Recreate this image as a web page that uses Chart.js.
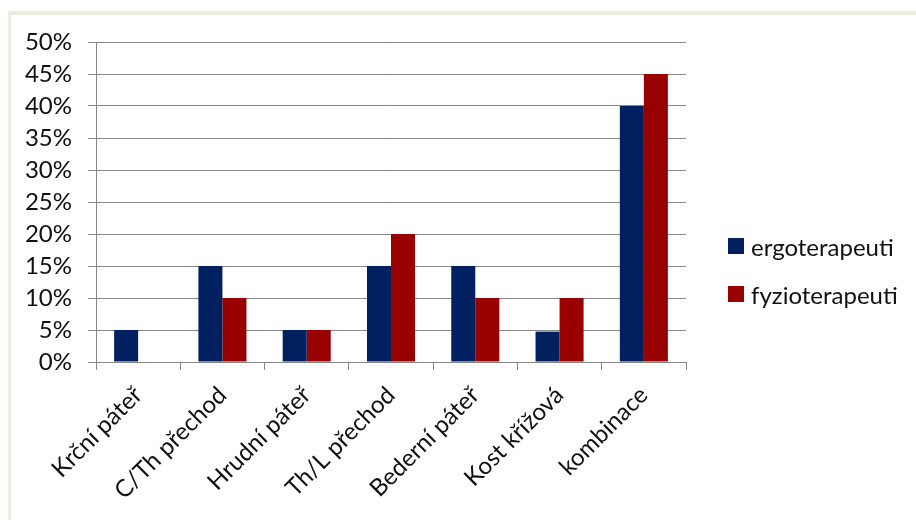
<!DOCTYPE html>
<html>
<head>
<meta charset="utf-8">
<script src="https://cdn.jsdelivr.net/npm/chart.js@4"></script>
<style>
  body { margin: 0; background: #fff; }
  #wrap { position: relative; width: 916px; height: 520px; overflow: hidden; }
  #frame { position: absolute; left: 8px; top: 11px; right: -10px; bottom: -10px;
           border-top: 4px solid #EEECE1; border-left: 3px solid #EEECE1; }
  #chart { position: absolute; left: 0; top: 0; }
  #legend { position: absolute; left: 728px; top: 231px; font-family: Lato, "Open Sans", sans-serif;
            font-size: 24px; color: #111; }
  .item { display: flex; align-items: center; height: 30px; margin-bottom: 18px; }
  .box { width: 16px; height: 16px; margin-right: 7px; }
</style>
</head>
<body>
<div id="wrap">
  <div id="frame"></div>
  <canvas id="chart" width="916" height="520"></canvas>
  <div id="legend"></div>
</div>
<script>
const categories = ['Krční páteř', 'C/Th přechod', 'Hrudní páteř', 'Th/L přechod', 'Bederní páteř', 'Kost křížová', 'kombinace'];
const ergoValues = [5, 15, 5, 15, 15, 4.75, 40];
const fyzioValues = [0, 10, 5, 20, 10, 10, 45];
const seriesNames = ['ergoterapeuti', 'fyzioterapeuti'];
const seriesColors = ['#002060', '#990000'];

const gridColor = '#868686';
const font = { family: 'Lato, "Open Sans", sans-serif', size: 24 };

const ctx = document.getElementById('chart').getContext('2d');

const chart = new Chart(ctx, {
  type: 'bar',
  data: {
    labels: categories,
    datasets: [
      { label: seriesNames[0], data: ergoValues, backgroundColor: seriesColors[0] },
      { label: seriesNames[1], data: fyzioValues, backgroundColor: seriesColors[1] }
    ]
  },
  options: {
    responsive: false,
    animation: false,
    layout: { padding: { top: 42, right: 230, left: 0, bottom: 0 } },
    datasets: { bar: { barPercentage: 1, categoryPercentage: 0.57 } },
    plugins: { legend: { display: false }, tooltip: { enabled: false } },
    scales: {
      x: {
        grid: { offset: true, drawOnChartArea: false, tickLength: 8, color: gridColor },
        border: { color: gridColor },
        ticks: { color: '#111', font, minRotation: 45, maxRotation: 45, padding: 11 },
        afterFit: s => { s.height = 158; }
      },
      y: {
        min: 0, max: 50,
        grid: { tickLength: 8, color: gridColor },
        border: { color: gridColor },
        ticks: { stepSize: 5, color: '#111', font, padding: 16, callback: v => v + '%' },
        afterFit: s => { s.width = 96; }
      }
    }
  }
});

// legend in html
const legend = document.getElementById('legend');
chart.data.datasets.forEach(ds => {
  const item = document.createElement('div');
  item.className = 'item';
  item.innerHTML = `<span class="box" style="background:${ds.backgroundColor}"></span><span>${ds.label}</span>`;
  legend.appendChild(item);
});
</script>
</body>
</html>
